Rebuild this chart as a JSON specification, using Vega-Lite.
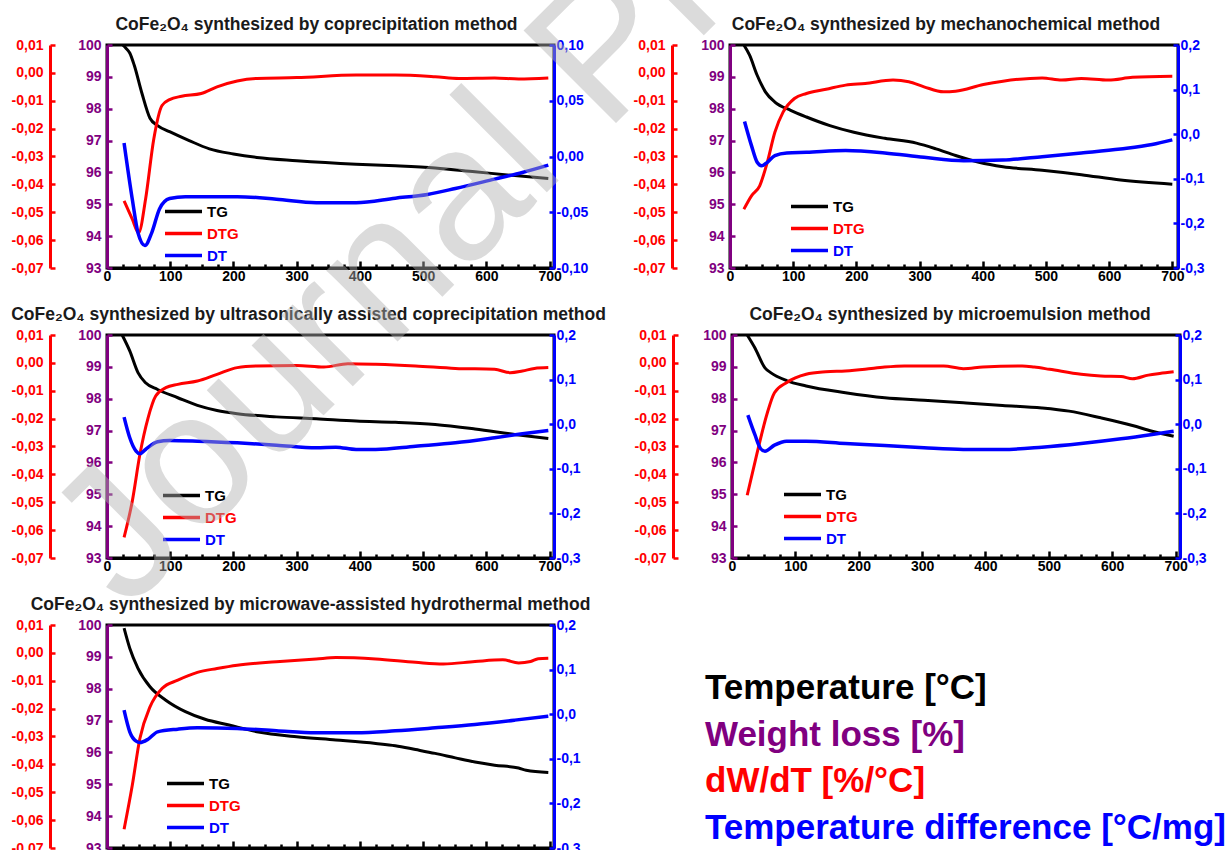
{
"$schema": "https://vega.github.io/schema/vega-lite/v6.json",
"padding": {"left": 9, "top": -534, "right": 5, "bottom": 5},
"data": {"values": [
{"p":1,"s":"TG","T":25,"v":100},{"p":1,"s":"TG","T":30,"v":99.9},{"p":1,"s":"TG","T":36,"v":99.75},{"p":1,"s":"TG","T":43,"v":99.37},{"p":1,"s":"TG","T":55,"v":98.5},{"p":1,"s":"TG","T":68,"v":97.7},{"p":1,"s":"TG","T":80,"v":97.47},{"p":1,"s":"TG","T":99,"v":97.28},{"p":1,"s":"TG","T":130,"v":97.0},{"p":1,"s":"TG","T":162,"v":96.74},{"p":1,"s":"TG","T":200,"v":96.58},{"p":1,"s":"TG","T":237,"v":96.47},{"p":1,"s":"TG","T":300,"v":96.37},{"p":1,"s":"TG","T":394,"v":96.26},{"p":1,"s":"TG","T":456,"v":96.21},{"p":1,"s":"TG","T":519,"v":96.14},{"p":1,"s":"TG","T":582,"v":96.02},{"p":1,"s":"TG","T":645,"v":95.9},{"p":1,"s":"TG","T":698,"v":95.81},
{"p":1,"s":"DTG","T":27,"v":-0.0459},{"p":1,"s":"DTG","T":40,"v":-0.0525},{"p":1,"s":"DTG","T":50,"v":-0.0574},{"p":1,"s":"DTG","T":61,"v":-0.0453},{"p":1,"s":"DTG","T":74,"v":-0.0237},{"p":1,"s":"DTG","T":87,"v":-0.0117},{"p":1,"s":"DTG","T":99,"v":-0.0096},{"p":1,"s":"DTG","T":118,"v":-0.0084},{"p":1,"s":"DTG","T":149,"v":-0.0074},{"p":1,"s":"DTG","T":174,"v":-0.005},{"p":1,"s":"DTG","T":206,"v":-0.0029},{"p":1,"s":"DTG","T":237,"v":-0.002},{"p":1,"s":"DTG","T":300,"v":-0.0017},{"p":1,"s":"DTG","T":394,"v":-0.0008},{"p":1,"s":"DTG","T":456,"v":-0.0008},{"p":1,"s":"DTG","T":519,"v":-0.0014},{"p":1,"s":"DTG","T":557,"v":-0.002},{"p":1,"s":"DTG","T":613,"v":-0.0018},{"p":1,"s":"DTG","T":651,"v":-0.0022},{"p":1,"s":"DTG","T":698,"v":-0.0018},
{"p":1,"s":"DT","T":27,"v":0.0122},{"p":1,"s":"DT","T":40,"v":-0.0383},{"p":1,"s":"DT","T":49,"v":-0.0684},{"p":1,"s":"DT","T":60,"v":-0.0798},{"p":1,"s":"DT","T":71,"v":-0.068},{"p":1,"s":"DT","T":83,"v":-0.047},{"p":1,"s":"DT","T":99,"v":-0.0377},{"p":1,"s":"DT","T":124,"v":-0.036},{"p":1,"s":"DT","T":206,"v":-0.036},{"p":1,"s":"DT","T":268,"v":-0.0383},{"p":1,"s":"DT","T":331,"v":-0.0414},{"p":1,"s":"DT","T":394,"v":-0.0414},{"p":1,"s":"DT","T":456,"v":-0.0374},{"p":1,"s":"DT","T":507,"v":-0.034},{"p":1,"s":"DT","T":551,"v":-0.0287},{"p":1,"s":"DT","T":613,"v":-0.0203},{"p":1,"s":"DT","T":657,"v":-0.0143},{"p":1,"s":"DT","T":698,"v":-0.0077},
{"p":2,"s":"TG","T":22,"v":100},{"p":2,"s":"TG","T":31,"v":99.68},{"p":2,"s":"TG","T":43,"v":99.05},{"p":2,"s":"TG","T":56,"v":98.53},{"p":2,"s":"TG","T":71,"v":98.21},{"p":2,"s":"TG","T":96,"v":97.95},{"p":2,"s":"TG","T":121,"v":97.74},{"p":2,"s":"TG","T":158,"v":97.47},{"p":2,"s":"TG","T":196,"v":97.26},{"p":2,"s":"TG","T":245,"v":97.07},{"p":2,"s":"TG","T":295,"v":96.92},{"p":2,"s":"TG","T":326,"v":96.74},{"p":2,"s":"TG","T":357,"v":96.53},{"p":2,"s":"TG","T":394,"v":96.32},{"p":2,"s":"TG","T":432,"v":96.18},{"p":2,"s":"TG","T":494,"v":96.07},{"p":2,"s":"TG","T":556,"v":95.93},{"p":2,"s":"TG","T":618,"v":95.76},{"p":2,"s":"TG","T":700,"v":95.63},
{"p":2,"s":"DTG","T":22,"v":-0.0489},{"p":2,"s":"DTG","T":34,"v":-0.0441},{"p":2,"s":"DTG","T":47,"v":-0.0405},{"p":2,"s":"DTG","T":59,"v":-0.0321},{"p":2,"s":"DTG","T":71,"v":-0.0213},{"p":2,"s":"DTG","T":84,"v":-0.0141},{"p":2,"s":"DTG","T":102,"v":-0.0092},{"p":2,"s":"DTG","T":121,"v":-0.0074},{"p":2,"s":"DTG","T":152,"v":-0.0059},{"p":2,"s":"DTG","T":183,"v":-0.0044},{"p":2,"s":"DTG","T":214,"v":-0.0038},{"p":2,"s":"DTG","T":258,"v":-0.0026},{"p":2,"s":"DTG","T":283,"v":-0.0032},{"p":2,"s":"DTG","T":307,"v":-0.005},{"p":2,"s":"DTG","T":338,"v":-0.0068},{"p":2,"s":"DTG","T":357,"v":-0.0066},{"p":2,"s":"DTG","T":401,"v":-0.0042},{"p":2,"s":"DTG","T":432,"v":-0.003},{"p":2,"s":"DTG","T":494,"v":-0.0018},{"p":2,"s":"DTG","T":525,"v":-0.0026},{"p":2,"s":"DTG","T":556,"v":-0.002},{"p":2,"s":"DTG","T":599,"v":-0.0026},{"p":2,"s":"DTG","T":637,"v":-0.0016},{"p":2,"s":"DTG","T":700,"v":-0.0012},
{"p":2,"s":"DT","T":23,"v":0.0286},{"p":2,"s":"DT","T":34,"v":-0.0256},{"p":2,"s":"DT","T":43,"v":-0.063},{"p":2,"s":"DT","T":50,"v":-0.0707},{"p":2,"s":"DT","T":59,"v":-0.063},{"p":2,"s":"DT","T":71,"v":-0.048},{"p":2,"s":"DT","T":90,"v":-0.042},{"p":2,"s":"DT","T":121,"v":-0.0406},{"p":2,"s":"DT","T":183,"v":-0.0368},{"p":2,"s":"DT","T":245,"v":-0.042},{"p":2,"s":"DT","T":307,"v":-0.0519},{"p":2,"s":"DT","T":370,"v":-0.0594},{"p":2,"s":"DT","T":432,"v":-0.0579},{"p":2,"s":"DT","T":494,"v":-0.0504},{"p":2,"s":"DT","T":556,"v":-0.042},{"p":2,"s":"DT","T":618,"v":-0.0331},{"p":2,"s":"DT","T":668,"v":-0.0233},{"p":2,"s":"DT","T":700,"v":-0.0128},
{"p":3,"s":"TG","T":24,"v":100},{"p":3,"s":"TG","T":36,"v":99.5},{"p":3,"s":"TG","T":49,"v":98.82},{"p":3,"s":"TG","T":61,"v":98.5},{"p":3,"s":"TG","T":80,"v":98.29},{"p":3,"s":"TG","T":112,"v":98.03},{"p":3,"s":"TG","T":143,"v":97.79},{"p":3,"s":"TG","T":174,"v":97.63},{"p":3,"s":"TG","T":206,"v":97.53},{"p":3,"s":"TG","T":268,"v":97.43},{"p":3,"s":"TG","T":331,"v":97.37},{"p":3,"s":"TG","T":394,"v":97.3},{"p":3,"s":"TG","T":456,"v":97.26},{"p":3,"s":"TG","T":519,"v":97.19},{"p":3,"s":"TG","T":582,"v":97.05},{"p":3,"s":"TG","T":645,"v":96.88},{"p":3,"s":"TG","T":698,"v":96.75},
{"p":3,"s":"DTG","T":27,"v":-0.0626},{"p":3,"s":"DTG","T":40,"v":-0.0496},{"p":3,"s":"DTG","T":52,"v":-0.0329},{"p":3,"s":"DTG","T":65,"v":-0.0197},{"p":3,"s":"DTG","T":77,"v":-0.0119},{"p":3,"s":"DTG","T":93,"v":-0.0089},{"p":3,"s":"DTG","T":112,"v":-0.0077},{"p":3,"s":"DTG","T":143,"v":-0.0065},{"p":3,"s":"DTG","T":174,"v":-0.0041},{"p":3,"s":"DTG","T":206,"v":-0.0017},{"p":3,"s":"DTG","T":237,"v":-0.0011},{"p":3,"s":"DTG","T":300,"v":-0.0009},{"p":3,"s":"DTG","T":343,"v":-0.0015},{"p":3,"s":"DTG","T":381,"v":-0.0003},{"p":3,"s":"DTG","T":425,"v":-0.0005},{"p":3,"s":"DTG","T":488,"v":-0.0011},{"p":3,"s":"DTG","T":551,"v":-0.002},{"p":3,"s":"DTG","T":613,"v":-0.0023},{"p":3,"s":"DTG","T":638,"v":-0.0035},{"p":3,"s":"DTG","T":657,"v":-0.0029},{"p":3,"s":"DTG","T":676,"v":-0.002},{"p":3,"s":"DTG","T":698,"v":-0.0017},
{"p":3,"s":"DT","T":27,"v":0.0159},{"p":3,"s":"DT","T":36,"v":-0.0305},{"p":3,"s":"DT","T":46,"v":-0.0605},{"p":3,"s":"DT","T":52,"v":-0.0665},{"p":3,"s":"DT","T":61,"v":-0.0567},{"p":3,"s":"DT","T":80,"v":-0.0395},{"p":3,"s":"DT","T":99,"v":-0.0365},{"p":3,"s":"DT","T":143,"v":-0.038},{"p":3,"s":"DT","T":206,"v":-0.0418},{"p":3,"s":"DT","T":268,"v":-0.047},{"p":3,"s":"DT","T":331,"v":-0.053},{"p":3,"s":"DT","T":362,"v":-0.0515},{"p":3,"s":"DT","T":394,"v":-0.0567},{"p":3,"s":"DT","T":425,"v":-0.0567},{"p":3,"s":"DT","T":488,"v":-0.0493},{"p":3,"s":"DT","T":551,"v":-0.0418},{"p":3,"s":"DT","T":613,"v":-0.0305},{"p":3,"s":"DT","T":657,"v":-0.0216},{"p":3,"s":"DT","T":698,"v":-0.0141},
{"p":4,"s":"TG","T":24,"v":100},{"p":4,"s":"TG","T":36,"v":99.6},{"p":4,"s":"TG","T":52,"v":98.97},{"p":4,"s":"TG","T":61,"v":98.82},{"p":4,"s":"TG","T":86,"v":98.57},{"p":4,"s":"TG","T":117,"v":98.4},{"p":4,"s":"TG","T":179,"v":98.19},{"p":4,"s":"TG","T":241,"v":98.03},{"p":4,"s":"TG","T":303,"v":97.95},{"p":4,"s":"TG","T":365,"v":97.87},{"p":4,"s":"TG","T":427,"v":97.79},{"p":4,"s":"TG","T":489,"v":97.71},{"p":4,"s":"TG","T":532,"v":97.61},{"p":4,"s":"TG","T":582,"v":97.4},{"p":4,"s":"TG","T":632,"v":97.16},{"p":4,"s":"TG","T":663,"v":96.98},{"p":4,"s":"TG","T":697,"v":96.82},
{"p":4,"s":"DTG","T":24,"v":-0.0475},{"p":4,"s":"DTG","T":39,"v":-0.0329},{"p":4,"s":"DTG","T":55,"v":-0.0185},{"p":4,"s":"DTG","T":67,"v":-0.0107},{"p":4,"s":"DTG","T":86,"v":-0.0071},{"p":4,"s":"DTG","T":117,"v":-0.0041},{"p":4,"s":"DTG","T":148,"v":-0.0032},{"p":4,"s":"DTG","T":179,"v":-0.0029},{"p":4,"s":"DTG","T":210,"v":-0.0023},{"p":4,"s":"DTG","T":241,"v":-0.0015},{"p":4,"s":"DTG","T":272,"v":-0.0011},{"p":4,"s":"DTG","T":334,"v":-0.0011},{"p":4,"s":"DTG","T":365,"v":-0.0021},{"p":4,"s":"DTG","T":396,"v":-0.0015},{"p":4,"s":"DTG","T":458,"v":-0.0011},{"p":4,"s":"DTG","T":477,"v":-0.0015},{"p":4,"s":"DTG","T":501,"v":-0.0023},{"p":4,"s":"DTG","T":551,"v":-0.0041},{"p":4,"s":"DTG","T":582,"v":-0.0047},{"p":4,"s":"DTG","T":614,"v":-0.0049},{"p":4,"s":"DTG","T":632,"v":-0.0057},{"p":4,"s":"DTG","T":657,"v":-0.0044},{"p":4,"s":"DTG","T":675,"v":-0.0038},{"p":4,"s":"DTG","T":697,"v":-0.0032},
{"p":4,"s":"DT","T":25,"v":0.0204},{"p":4,"s":"DT","T":36,"v":-0.023},{"p":4,"s":"DT","T":45,"v":-0.0545},{"p":4,"s":"DT","T":52,"v":-0.0605},{"p":4,"s":"DT","T":67,"v":-0.047},{"p":4,"s":"DT","T":86,"v":-0.038},{"p":4,"s":"DT","T":117,"v":-0.038},{"p":4,"s":"DT","T":179,"v":-0.0433},{"p":4,"s":"DT","T":241,"v":-0.0478},{"p":4,"s":"DT","T":303,"v":-0.053},{"p":4,"s":"DT","T":365,"v":-0.0567},{"p":4,"s":"DT","T":427,"v":-0.0567},{"p":4,"s":"DT","T":489,"v":-0.0515},{"p":4,"s":"DT","T":551,"v":-0.0433},{"p":4,"s":"DT","T":614,"v":-0.0328},{"p":4,"s":"DT","T":663,"v":-0.023},{"p":4,"s":"DT","T":697,"v":-0.0156},
{"p":5,"s":"TG","T":27,"v":99.9},{"p":5,"s":"TG","T":36,"v":99.27},{"p":5,"s":"TG","T":49,"v":98.64},{"p":5,"s":"TG","T":68,"v":98.06},{"p":5,"s":"TG","T":93,"v":97.64},{"p":5,"s":"TG","T":124,"v":97.28},{"p":5,"s":"TG","T":155,"v":97.04},{"p":5,"s":"TG","T":193,"v":96.86},{"p":5,"s":"TG","T":237,"v":96.65},{"p":5,"s":"TG","T":300,"v":96.49},{"p":5,"s":"TG","T":362,"v":96.39},{"p":5,"s":"TG","T":425,"v":96.28},{"p":5,"s":"TG","T":456,"v":96.21},{"p":5,"s":"TG","T":488,"v":96.09},{"p":5,"s":"TG","T":519,"v":95.97},{"p":5,"s":"TG","T":551,"v":95.83},{"p":5,"s":"TG","T":582,"v":95.7},{"p":5,"s":"TG","T":613,"v":95.6},{"p":5,"s":"TG","T":651,"v":95.51},{"p":5,"s":"TG","T":663,"v":95.44},{"p":5,"s":"TG","T":698,"v":95.37},
{"p":5,"s":"DTG","T":27,"v":-0.0633},{"p":5,"s":"DTG","T":40,"v":-0.0475},{"p":5,"s":"DTG","T":52,"v":-0.0307},{"p":5,"s":"DTG","T":68,"v":-0.0194},{"p":5,"s":"DTG","T":87,"v":-0.0128},{"p":5,"s":"DTG","T":112,"v":-0.0098},{"p":5,"s":"DTG","T":143,"v":-0.007},{"p":5,"s":"DTG","T":174,"v":-0.0056},{"p":5,"s":"DTG","T":206,"v":-0.0044},{"p":5,"s":"DTG","T":268,"v":-0.0032},{"p":5,"s":"DTG","T":331,"v":-0.0022},{"p":5,"s":"DTG","T":362,"v":-0.0017},{"p":5,"s":"DTG","T":425,"v":-0.0022},{"p":5,"s":"DTG","T":488,"v":-0.0034},{"p":5,"s":"DTG","T":532,"v":-0.004},{"p":5,"s":"DTG","T":582,"v":-0.0031},{"p":5,"s":"DTG","T":626,"v":-0.0025},{"p":5,"s":"DTG","T":651,"v":-0.0036},{"p":5,"s":"DTG","T":670,"v":-0.0031},{"p":5,"s":"DTG","T":682,"v":-0.0021},{"p":5,"s":"DTG","T":698,"v":-0.0019},
{"p":5,"s":"DT","T":27,"v":0.0091},{"p":5,"s":"DT","T":36,"v":-0.0395},{"p":5,"s":"DT","T":46,"v":-0.0605},{"p":5,"s":"DT","T":52,"v":-0.0635},{"p":5,"s":"DT","T":65,"v":-0.056},{"p":5,"s":"DT","T":80,"v":-0.0395},{"p":5,"s":"DT","T":112,"v":-0.0335},{"p":5,"s":"DT","T":143,"v":-0.0305},{"p":5,"s":"DT","T":206,"v":-0.032},{"p":5,"s":"DT","T":268,"v":-0.0373},{"p":5,"s":"DT","T":331,"v":-0.0418},{"p":5,"s":"DT","T":394,"v":-0.0418},{"p":5,"s":"DT","T":456,"v":-0.0373},{"p":5,"s":"DT","T":519,"v":-0.0305},{"p":5,"s":"DT","T":582,"v":-0.023},{"p":5,"s":"DT","T":645,"v":-0.0133},{"p":5,"s":"DT","T":698,"v":-0.0043}
]},
"vconcat": [
{"hconcat": [
{"width": 447, "height": 223,
 "title": {"text": "CoFe₂O₄ synthesized by coprecipitation method", "dx": -14},
 "transform": [{"filter": "datum.p === 1"}],
 "encoding": {
  "x": {"field": "T", "type": "quantitative", "scale": {"domain": [0, 707], "nice": false, "zero": false},
   "axis": {"values": [0,25,50,75,100,125,150,175,200,225,250,275,300,325,350,375,400,425,450,475,500,525,550,575,600,625,650,675,700], "labelExpr": "datum.value % 100 === 0 ? datum.label : ''", "domainColor": "#000000", "tickColor": "#000000", "labelColor": "#000000", "tickSize": {"condition": {"test": "datum.value % 100 === 0", "value": -7}, "value": -4}, "labelPadding": 8}},
  "color": {"field": "s", "type": "nominal", "scale": {"domain": ["TG", "DTG", "DT"], "range": ["#000000", "#ff0000", "#0000ff"]},
   "legend": {"orient": "none", "legendX": 69, "legendY": 159, "encode": {"labels": {"update": {"fill": {"signal": "datum.value === 'TG' ? '#000000' : datum.value === 'DTG' ? '#ff0000' : '#0000ff'"}}}}}}
 },
 "layer": [
  {"transform": [{"filter": "datum.s === 'TG'"}], "mark": {"type": "line", "strokeWidth": 3, "interpolate": "monotone"},
   "encoding": {"y": {"field": "v", "type": "quantitative", "scale": {"domain": [93, 100], "nice": false, "zero": false}, "axis": {"orient": "left", "offset": 0, "values": [93,94,95,96,97,98,99,100], "format": "d", "domainColor": "#800080", "tickColor": "#800080", "labelColor": "#800080", "tickSize": -5, "labelPadding": 11}}}},
  {"transform": [{"filter": "datum.s === 'DTG'"}], "mark": {"type": "line", "strokeWidth": 3, "interpolate": "monotone"},
   "encoding": {"y": {"field": "v", "type": "quantitative", "scale": {"domain": [-0.07, 0.01], "nice": false, "zero": false}, "axis": {"orient": "left", "offset": 57, "values": [-0.07,-0.06,-0.05,-0.04,-0.03,-0.02,-0.01,0,0.01], "format": ".2f", "domainColor": "#ff0000", "tickColor": "#ff0000", "labelColor": "#ff0000", "tickSize": -5, "labelPadding": 12}}}},
  {"transform": [{"filter": "datum.s === 'DT'"}], "mark": {"type": "line", "strokeWidth": 3.5, "interpolate": "monotone"},
   "encoding": {"y": {"field": "v", "type": "quantitative", "scale": {"domain": [-0.1, 0.1], "nice": false, "zero": false}, "axis": {"orient": "right", "values": [-0.1,-0.05,0,0.05,0.1], "format": ".2f", "domainColor": "#0000ff", "tickColor": "#0000ff", "labelColor": "#0000ff", "tickSize": -5, "labelPadding": 7}}}}
 ],
 "resolve": {"scale": {"y": "independent"}, "axis": {"y": "independent"}}
},
{"width": 448, "height": 223,
 "title": {"text": "CoFe₂O₄ synthesized by mechanochemical method", "dx": -8},
 "transform": [{"filter": "datum.p === 2"}],
 "encoding": {
  "x": {"field": "T", "type": "quantitative", "scale": {"domain": [0, 709], "nice": false, "zero": false},
   "axis": {"values": [0,25,50,75,100,125,150,175,200,225,250,275,300,325,350,375,400,425,450,475,500,525,550,575,600,625,650,675,700], "labelExpr": "datum.value % 100 === 0 ? datum.label : ''", "domainColor": "#000000", "tickColor": "#000000", "labelColor": "#000000", "tickSize": {"condition": {"test": "datum.value % 100 === 0", "value": -7}, "value": -4}, "labelPadding": 8}},
  "color": {"field": "s", "type": "nominal", "scale": {"domain": ["TG", "DTG", "DT"], "range": ["#000000", "#ff0000", "#0000ff"]},
   "legend": {"orient": "none", "legendX": 72, "legendY": 154, "encode": {"labels": {"update": {"fill": {"signal": "datum.value === 'TG' ? '#000000' : datum.value === 'DTG' ? '#ff0000' : '#0000ff'"}}}}}}
 },
 "layer": [
  {"transform": [{"filter": "datum.s === 'TG'"}], "mark": {"type": "line", "strokeWidth": 3, "interpolate": "monotone"},
   "encoding": {"y": {"field": "v", "type": "quantitative", "scale": {"domain": [93, 100], "nice": false, "zero": false}, "axis": {"orient": "left", "offset": 0, "values": [93,94,95,96,97,98,99,100], "format": "d", "domainColor": "#800080", "tickColor": "#800080", "labelColor": "#800080", "tickSize": -5, "labelPadding": 11}}}},
  {"transform": [{"filter": "datum.s === 'DTG'"}], "mark": {"type": "line", "strokeWidth": 3, "interpolate": "monotone"},
   "encoding": {"y": {"field": "v", "type": "quantitative", "scale": {"domain": [-0.07, 0.01], "nice": false, "zero": false}, "axis": {"orient": "left", "offset": 58, "values": [-0.07,-0.06,-0.05,-0.04,-0.03,-0.02,-0.01,0,0.01], "format": ".2f", "domainColor": "#ff0000", "tickColor": "#ff0000", "labelColor": "#ff0000", "tickSize": -5, "labelPadding": 12}}}},
  {"transform": [{"filter": "datum.s === 'DT'"}], "mark": {"type": "line", "strokeWidth": 3.5, "interpolate": "monotone"},
   "encoding": {"y": {"field": "v", "type": "quantitative", "scale": {"domain": [-0.3, 0.2], "nice": false, "zero": false}, "axis": {"orient": "right", "values": [-0.3,-0.2,-0.1,0,0.1,0.2], "format": ".1f", "domainColor": "#0000ff", "tickColor": "#0000ff", "labelColor": "#0000ff", "tickSize": -5, "labelPadding": 7}}}}
 ],
 "resolve": {"scale": {"y": "independent"}, "axis": {"y": "independent"}}
}
], "spacing": 176, "bounds": "flush",
 "resolve": {"scale": {"color": "independent", "x": "independent"}, "legend": {"color": "independent"}}},
{"hconcat": [
{"width": 447, "height": 223,
 "title": {"text": "CoFe₂O₄ synthesized by ultrasonically assisted coprecipitation method", "dx": -22},
 "transform": [{"filter": "datum.p === 3"}],
 "encoding": {
  "x": {"field": "T", "type": "quantitative", "scale": {"domain": [0, 707], "nice": false, "zero": false},
   "axis": {"values": [0,25,50,75,100,125,150,175,200,225,250,275,300,325,350,375,400,425,450,475,500,525,550,575,600,625,650,675,700], "labelExpr": "datum.value % 100 === 0 ? datum.label : ''", "domainColor": "#000000", "tickColor": "#000000", "labelColor": "#000000", "tickSize": {"condition": {"test": "datum.value % 100 === 0", "value": -7}, "value": -4}, "labelPadding": 8}},
  "color": {"field": "s", "type": "nominal", "scale": {"domain": ["TG", "DTG", "DT"], "range": ["#000000", "#ff0000", "#0000ff"]},
   "legend": {"orient": "none", "legendX": 67, "legendY": 153, "encode": {"labels": {"update": {"fill": {"signal": "datum.value === 'TG' ? '#000000' : datum.value === 'DTG' ? '#ff0000' : '#0000ff'"}}}}}}
 },
 "layer": [
  {"transform": [{"filter": "datum.s === 'TG'"}], "mark": {"type": "line", "strokeWidth": 3, "interpolate": "monotone"},
   "encoding": {"y": {"field": "v", "type": "quantitative", "scale": {"domain": [93, 100], "nice": false, "zero": false}, "axis": {"orient": "left", "offset": 0, "values": [93,94,95,96,97,98,99,100], "format": "d", "domainColor": "#800080", "tickColor": "#800080", "labelColor": "#800080", "tickSize": -5, "labelPadding": 11}}}},
  {"transform": [{"filter": "datum.s === 'DTG'"}], "mark": {"type": "line", "strokeWidth": 3, "interpolate": "monotone"},
   "encoding": {"y": {"field": "v", "type": "quantitative", "scale": {"domain": [-0.07, 0.01], "nice": false, "zero": false}, "axis": {"orient": "left", "offset": 57, "values": [-0.07,-0.06,-0.05,-0.04,-0.03,-0.02,-0.01,0,0.01], "format": ".2f", "domainColor": "#ff0000", "tickColor": "#ff0000", "labelColor": "#ff0000", "tickSize": -5, "labelPadding": 12}}}},
  {"transform": [{"filter": "datum.s === 'DT'"}], "mark": {"type": "line", "strokeWidth": 3.5, "interpolate": "monotone"},
   "encoding": {"y": {"field": "v", "type": "quantitative", "scale": {"domain": [-0.3, 0.2], "nice": false, "zero": false}, "axis": {"orient": "right", "values": [-0.3,-0.2,-0.1,0,0.1,0.2], "format": ".1f", "domainColor": "#0000ff", "tickColor": "#0000ff", "labelColor": "#0000ff", "tickSize": -5, "labelPadding": 7}}}}
 ],
 "resolve": {"scale": {"y": "independent"}, "axis": {"y": "independent"}}
},
{"width": 448, "height": 223,
 "title": {"text": "CoFe₂O₄ synthesized by microemulsion method", "dx": -6},
 "transform": [{"filter": "datum.p === 4"}],
 "encoding": {
  "x": {"field": "T", "type": "quantitative", "scale": {"domain": [0, 707], "nice": false, "zero": false},
   "axis": {"values": [0,25,50,75,100,125,150,175,200,225,250,275,300,325,350,375,400,425,450,475,500,525,550,575,600,625,650,675,700], "labelExpr": "datum.value % 100 === 0 ? datum.label : ''", "domainColor": "#000000", "tickColor": "#000000", "labelColor": "#000000", "tickSize": {"condition": {"test": "datum.value % 100 === 0", "value": -7}, "value": -4}, "labelPadding": 8}},
  "color": {"field": "s", "type": "nominal", "scale": {"domain": ["TG", "DTG", "DT"], "range": ["#000000", "#ff0000", "#0000ff"]},
   "legend": {"orient": "none", "legendX": 63, "legendY": 152, "encode": {"labels": {"update": {"fill": {"signal": "datum.value === 'TG' ? '#000000' : datum.value === 'DTG' ? '#ff0000' : '#0000ff'"}}}}}}
 },
 "layer": [
  {"transform": [{"filter": "datum.s === 'TG'"}], "mark": {"type": "line", "strokeWidth": 3, "interpolate": "monotone"},
   "encoding": {"y": {"field": "v", "type": "quantitative", "scale": {"domain": [93, 100], "nice": false, "zero": false}, "axis": {"orient": "left", "offset": 0, "values": [93,94,95,96,97,98,99,100], "format": "d", "domainColor": "#800080", "tickColor": "#800080", "labelColor": "#800080", "tickSize": -5, "labelPadding": 11}}}},
  {"transform": [{"filter": "datum.s === 'DTG'"}], "mark": {"type": "line", "strokeWidth": 3, "interpolate": "monotone"},
   "encoding": {"y": {"field": "v", "type": "quantitative", "scale": {"domain": [-0.07, 0.01], "nice": false, "zero": false}, "axis": {"orient": "left", "offset": 59, "values": [-0.07,-0.06,-0.05,-0.04,-0.03,-0.02,-0.01,0,0.01], "format": ".2f", "domainColor": "#ff0000", "tickColor": "#ff0000", "labelColor": "#ff0000", "tickSize": -5, "labelPadding": 12}}}},
  {"transform": [{"filter": "datum.s === 'DT'"}], "mark": {"type": "line", "strokeWidth": 3.5, "interpolate": "monotone"},
   "encoding": {"y": {"field": "v", "type": "quantitative", "scale": {"domain": [-0.3, 0.2], "nice": false, "zero": false}, "axis": {"orient": "right", "values": [-0.3,-0.2,-0.1,0,0.1,0.2], "format": ".1f", "domainColor": "#0000ff", "tickColor": "#0000ff", "labelColor": "#0000ff", "tickSize": -5, "labelPadding": 7}}}}
 ],
 "resolve": {"scale": {"y": "independent"}, "axis": {"y": "independent"}}
}
], "spacing": 178, "bounds": "flush",
 "resolve": {"scale": {"color": "independent", "x": "independent"}, "legend": {"color": "independent"}}},
{"hconcat": [
{"width": 447, "height": 223,
 "title": {"text": "CoFe₂O₄ synthesized by microwave-assisted hydrothermal method", "dx": -20},
 "transform": [{"filter": "datum.p === 5"}],
 "encoding": {
  "x": {"field": "T", "type": "quantitative", "scale": {"domain": [0, 707], "nice": false, "zero": false},
   "axis": {"values": [0,25,50,75,100,125,150,175,200,225,250,275,300,325,350,375,400,425,450,475,500,525,550,575,600,625,650,675,700], "labelExpr": "datum.value % 100 === 0 ? datum.label : ''", "domainColor": "#000000", "tickColor": "#000000", "labelColor": "#000000", "tickSize": {"condition": {"test": "datum.value % 100 === 0", "value": -7}, "value": -4}, "labelPadding": 8}},
  "color": {"field": "s", "type": "nominal", "scale": {"domain": ["TG", "DTG", "DT"], "range": ["#000000", "#ff0000", "#0000ff"]},
   "legend": {"orient": "none", "legendX": 71, "legendY": 151, "encode": {"labels": {"update": {"fill": {"signal": "datum.value === 'TG' ? '#000000' : datum.value === 'DTG' ? '#ff0000' : '#0000ff'"}}}}}}
 },
 "layer": [
  {"transform": [{"filter": "datum.s === 'TG'"}], "mark": {"type": "line", "strokeWidth": 3, "interpolate": "monotone"},
   "encoding": {"y": {"field": "v", "type": "quantitative", "scale": {"domain": [93, 100], "nice": false, "zero": false}, "axis": {"orient": "left", "offset": 0, "values": [93,94,95,96,97,98,99,100], "format": "d", "domainColor": "#800080", "tickColor": "#800080", "labelColor": "#800080", "tickSize": -5, "labelPadding": 11}}}},
  {"transform": [{"filter": "datum.s === 'DTG'"}], "mark": {"type": "line", "strokeWidth": 3, "interpolate": "monotone"},
   "encoding": {"y": {"field": "v", "type": "quantitative", "scale": {"domain": [-0.07, 0.01], "nice": false, "zero": false}, "axis": {"orient": "left", "offset": 57, "values": [-0.07,-0.06,-0.05,-0.04,-0.03,-0.02,-0.01,0,0.01], "format": ".2f", "domainColor": "#ff0000", "tickColor": "#ff0000", "labelColor": "#ff0000", "tickSize": -5, "labelPadding": 12}}}},
  {"transform": [{"filter": "datum.s === 'DT'"}], "mark": {"type": "line", "strokeWidth": 3.5, "interpolate": "monotone"},
   "encoding": {"y": {"field": "v", "type": "quantitative", "scale": {"domain": [-0.3, 0.2], "nice": false, "zero": false}, "axis": {"orient": "right", "values": [-0.3,-0.2,-0.1,0,0.1,0.2], "format": ".1f", "domainColor": "#0000ff", "tickColor": "#0000ff", "labelColor": "#0000ff", "tickSize": -5, "labelPadding": 7}}}}
 ],
 "resolve": {"scale": {"y": "independent"}, "axis": {"y": "independent"}}
},
{"width": 520, "height": 223,
 "view": {"stroke": null},
 "layer": [
  {"data": {"values": [{"w": "Journal Pre-proof"}]},
   "mark": {"type": "text", "angle": -45, "align": "left", "baseline": "alphabetic", "fontSize": 190, "font": "Liberation Sans", "opacity": 0.45},
   "encoding": {"x": {"value": -578}, "y": {"value": -13}, "text": {"field": "w"}, "color": {"value": "#b0b0b0"}}},
  {"data": {"values": [
    {"label": "Temperature [°C]", "row": 1},
    {"label": "Weight loss [%]", "row": 2},
    {"label": "dW/dT [%/°C]", "row": 3},
    {"label": "Temperature difference [°C/mg]", "row": 4}
   ]},
   "mark": {"type": "text", "align": "left", "baseline": "middle", "fontSize": 35, "fontWeight": "bold", "font": "Liberation Sans"},
   "encoding": {
    "x": {"value": 0},
    "y": {"field": "row", "type": "quantitative", "scale": {"domain": [-0.35, 4.43], "reverse": true, "nice": false, "zero": false}, "axis": null},
    "text": {"field": "label"},
    "color": {"field": "label", "type": "nominal", "scale": {"domain": ["Temperature [°C]", "Weight loss [%]", "dW/dT [%/°C]", "Temperature difference [°C/mg]"], "range": ["#000000", "#800080", "#ff0000", "#0000ff"]}, "legend": null}
   }}
 ]
}
], "spacing": 151, "bounds": "flush",
 "resolve": {"scale": {"color": "independent", "x": "independent", "y": "independent"}, "legend": {"color": "independent"}}}
],
"spacing": 290, "bounds": "flush",
"resolve": {"scale": {"color": "independent", "x": "independent"}, "legend": {"color": "independent"}},
"config": {
 "font": "Liberation Sans",
 "locale": {"number": {"decimal": ",", "thousands": ".", "grouping": [3], "currency": ["", ""], "minus": "-"}},
 "view": {"stroke": "#000000", "strokeWidth": 3},
 "axis": {"labelFont": "Liberation Sans", "labelFontSize": 14, "labelFontWeight": "bold", "grid": false, "title": null, "domainWidth": 3, "tickWidth": 2.5, "labelOverlap": false, "labelFlush": false},
 "title": {"font": "Liberation Sans", "fontSize": 17.5, "fontWeight": "bold", "color": "#1a1a1a", "offset": 5, "frame": "group"},
 "legend": {"title": null, "symbolType": "M-3.7,0H3.7", "symbolStrokeWidth": 3.5, "symbolSize": 100, "labelFont": "Liberation Sans", "labelFontSize": 15, "labelFontWeight": "bold", "rowPadding": 6, "labelOffset": 16, "padding": 0}
}
}
